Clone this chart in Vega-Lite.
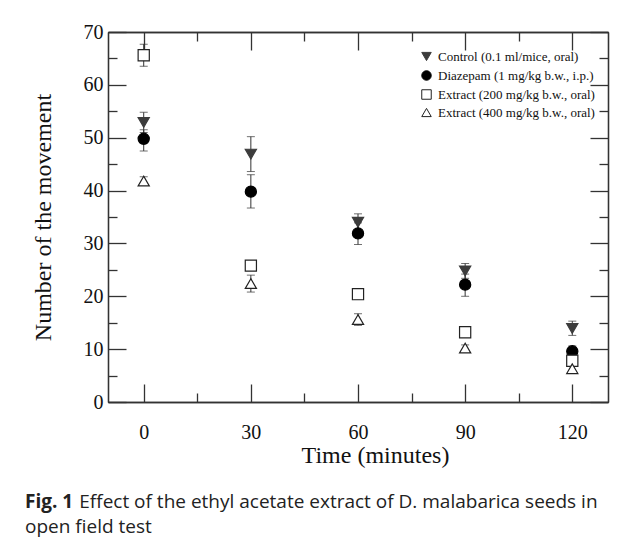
{
  "$schema": "https://vega.github.io/schema/vega-lite/v6.json",
  "width": 500,
  "height": 370,
  "autosize": {"type": "none"},
  "padding": {"left": 108, "top": 32, "right": 19, "bottom": 142},
  "background": "white",
  "title": {
    "text": "Fig. 1",
    "subtitle": ["\u200b\u00a0\u00a0\u00a0\u00a0\u00a0\u00a0\u00a0\u00a0\u00a0\u00a0\u00a0Effect of the ethyl acetate extract of D. malabarica seeds in", "open field test"],
    "orient": "bottom",
    "anchor": "start",
    "frame": "group",
    "dx": -83,
    "offset": 26,
    "font": "Open Sans",
    "fontSize": 19,
    "fontWeight": "bold",
    "color": "#222222",
    "subtitleFont": "Open Sans",
    "subtitleFontSize": 19,
    "subtitleFontWeight": "normal",
    "subtitleColor": "#222222",
    "subtitleLineHeight": 25,
    "subtitlePadding": -19
  },
  "data": {
    "values": [
      {"group": "Control (0.1 ml/mice, oral)", "t": 0, "mean": 52.9, "lo": 51.0, "hi": 54.8},
      {"group": "Control (0.1 ml/mice, oral)", "t": 30, "mean": 46.9, "lo": 43.6, "hi": 50.2},
      {"group": "Control (0.1 ml/mice, oral)", "t": 60, "mean": 34.0, "lo": 32.4, "hi": 35.6},
      {"group": "Control (0.1 ml/mice, oral)", "t": 90, "mean": 24.8, "lo": 23.4, "hi": 26.2},
      {"group": "Control (0.1 ml/mice, oral)", "t": 120, "mean": 13.9, "lo": 12.6, "hi": 15.3},
      {"group": "Diazepam (1 mg/kg b.w., i.p.)", "t": 0, "mean": 49.8, "lo": 47.5, "hi": 51.5},
      {"group": "Diazepam (1 mg/kg b.w., i.p.)", "t": 30, "mean": 39.8, "lo": 36.7, "hi": 43.0},
      {"group": "Diazepam (1 mg/kg b.w., i.p.)", "t": 60, "mean": 31.9, "lo": 29.8, "hi": 33.9},
      {"group": "Diazepam (1 mg/kg b.w., i.p.)", "t": 90, "mean": 22.2, "lo": 20.0, "hi": 24.2},
      {"group": "Diazepam (1 mg/kg b.w., i.p.)", "t": 120, "mean": 9.6, "lo": 8.6, "hi": 10.6},
      {"group": "Extract (200 mg/kg b.w., oral)", "t": 0, "mean": 65.6, "lo": 63.5, "hi": 67.7},
      {"group": "Extract (200 mg/kg b.w., oral)", "t": 30, "mean": 25.8, "lo": 25.0, "hi": 26.6},
      {"group": "Extract (200 mg/kg b.w., oral)", "t": 60, "mean": 20.4, "lo": 19.4, "hi": 21.4},
      {"group": "Extract (200 mg/kg b.w., oral)", "t": 90, "mean": 13.2, "lo": 12.5, "hi": 13.9},
      {"group": "Extract (200 mg/kg b.w., oral)", "t": 120, "mean": 7.8, "lo": 6.8, "hi": 8.8},
      {"group": "Extract (400 mg/kg b.w., oral)", "t": 0, "mean": 41.8, "lo": 41.0, "hi": 42.6},
      {"group": "Extract (400 mg/kg b.w., oral)", "t": 30, "mean": 22.4, "lo": 20.8, "hi": 24.0},
      {"group": "Extract (400 mg/kg b.w., oral)", "t": 60, "mean": 15.6, "lo": 14.5, "hi": 16.7},
      {"group": "Extract (400 mg/kg b.w., oral)", "t": 90, "mean": 10.2, "lo": 9.6, "hi": 10.8},
      {"group": "Extract (400 mg/kg b.w., oral)", "t": 120, "mean": 6.3, "lo": 5.5, "hi": 7.1}
    ]
  },
  "layer": [
    {
      "mark": {"type": "rule", "color": "#333333", "strokeWidth": 1},
      "encoding": {
        "x": {"field": "t", "type": "quantitative", "scale": {"domain": [-10, 130], "nice": false, "zero": false},
              "axis": {"orient": "bottom", "values": [0, 30, 60, 90, 120], "tickSize": -18, "labelPadding": 38, "title": "Time (minutes)", "titlePadding": 1, "titleX": 267}},
        "y": {"field": "lo", "type": "quantitative", "scale": {"domain": [0, 70], "nice": false, "zero": false},
              "axis": {"orient": "left", "values": [0, 10, 20, 30, 40, 50, 60, 70], "tickSize": -18, "labelPadding": 23, "title": "Number of the movement", "titlePadding": 28}},
        "y2": {"field": "hi"}
      }
    },
    {
      "mark": {"type": "tick", "orient": "horizontal", "size": 8, "thickness": 1, "color": "#333333"},
      "encoding": {
        "x": {"field": "t", "type": "quantitative", "scale": {"domain": [-10, 130], "nice": false, "zero": false},
              "axis": {"orient": "bottom", "values": [15, 45, 75, 105], "tickSize": -9, "labels": false, "title": null}},
        "y": {"field": "lo", "type": "quantitative", "scale": {"domain": [0, 70], "nice": false, "zero": false},
              "axis": {"orient": "left", "values": [5, 15, 25, 35, 45, 55, 65], "tickSize": -9, "labels": false, "title": null}}
      }
    },
    {
      "mark": {"type": "tick", "orient": "horizontal", "size": 8, "thickness": 1, "color": "#333333"},
      "encoding": {
        "x": {"field": "t", "type": "quantitative", "scale": {"domain": [-10, 130], "nice": false, "zero": false},
              "axis": {"orient": "top", "values": [0, 30, 60, 90, 120], "tickSize": -18, "labels": false, "title": null}},
        "y": {"field": "hi", "type": "quantitative", "scale": {"domain": [0, 70], "nice": false, "zero": false},
              "axis": {"orient": "right", "values": [0, 10, 20, 30, 40, 50, 60, 70], "tickSize": -18, "labels": false, "title": null}}
      }
    },
    {
      "mark": {"type": "point", "opacity": 0},
      "encoding": {
        "x": {"field": "t", "type": "quantitative", "scale": {"domain": [-10, 130], "nice": false, "zero": false},
              "axis": {"orient": "top", "values": [15, 45, 75, 105], "tickSize": -9, "labels": false, "title": null}},
        "y": {"field": "mean", "type": "quantitative", "scale": {"domain": [0, 70], "nice": false, "zero": false},
              "axis": {"orient": "right", "values": [5, 15, 25, 35, 45, 55, 65], "tickSize": -9, "labels": false, "title": null}}
      }
    },
    {
      "mark": {"type": "point", "size": 125, "strokeWidth": 1.2, "opacity": 1},
      "encoding": {
        "x": {"field": "t", "type": "quantitative", "scale": {"domain": [-10, 130], "nice": false, "zero": false}, "axis": null},
        "y": {"field": "mean", "type": "quantitative", "scale": {"domain": [0, 70], "nice": false, "zero": false}, "axis": null},
        "shape": {"field": "group", "type": "nominal",
                  "scale": {"domain": ["Control (0.1 ml/mice, oral)", "Diazepam (1 mg/kg b.w., i.p.)", "Extract (200 mg/kg b.w., oral)", "Extract (400 mg/kg b.w., oral)"],
                            "range": ["triangle-down", "circle", "square", "triangle-up"]},
                  "legend": {"orient": "none", "legendX": 312, "legendY": 18, "title": null, "labelFont": "Liberation Serif", "labelFontSize": 13, "labelColor": "#111111", "symbolSize": 90, "symbolStrokeWidth": 1, "rowPadding": 4, "labelOffset": 5}},
        "fill": {"field": "group", "type": "nominal",
                 "scale": {"domain": ["Control (0.1 ml/mice, oral)", "Diazepam (1 mg/kg b.w., i.p.)", "Extract (200 mg/kg b.w., oral)", "Extract (400 mg/kg b.w., oral)"],
                           "range": ["#3c3c3c", "#000000", "#ffffff", "#ffffff"]}},
        "stroke": {"field": "group", "type": "nominal",
                   "scale": {"domain": ["Control (0.1 ml/mice, oral)", "Diazepam (1 mg/kg b.w., i.p.)", "Extract (200 mg/kg b.w., oral)", "Extract (400 mg/kg b.w., oral)"],
                             "range": ["#3c3c3c", "#000000", "#222222", "#222222"]}}
      }
    }
  ],
  "resolve": {"axis": {"x": "independent", "y": "independent"}},
  "config": {
    "view": {"stroke": null},
    "axis": {
      "grid": false,
      "domainColor": "#333333",
      "domainWidth": 1.3,
      "tickColor": "#333333",
      "tickWidth": 1.3,
      "labelFont": "Liberation Serif",
      "labelFontSize": 20,
      "labelColor": "#111111",
      "titleFont": "Liberation Serif",
      "titleFontSize": 24,
      "titleFontWeight": "normal",
      "titleColor": "#111111"
    }
  }
}
